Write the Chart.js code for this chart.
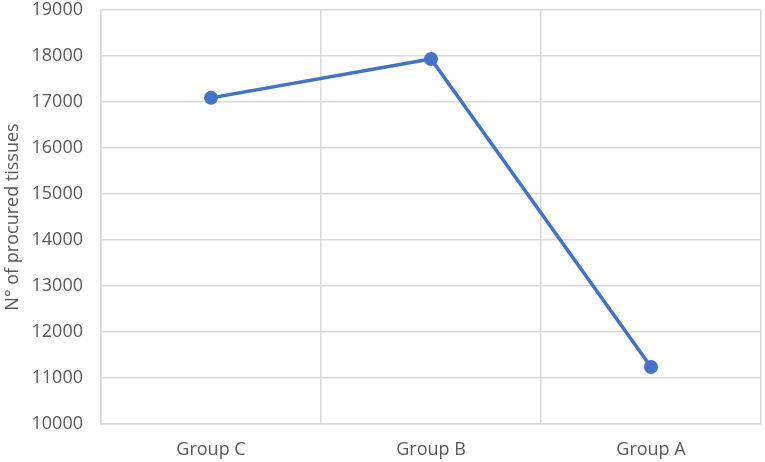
<!DOCTYPE html>
<html>
<head>
<meta charset="utf-8">
<script src="https://cdn.jsdelivr.net/npm/chart.js@4/dist/chart.umd.min.js"></script>
<style>
  html, body { margin: 0; padding: 0; background: #fff; }
  #wrap { width: 765px; height: 462px; }
</style>
</head>
<body>
<div id="wrap"><canvas id="tissueChart"></canvas></div>
<script>
const groups = ['Group C', 'Group B', 'Group A'];
const procuredTissues = [17090, 17935, 11240];
const yMin = 10000;
const yMax = 19000;
const yStep = 1000;

const ctx = document.getElementById('tissueChart').getContext('2d');
const lineColor = '#4472C4';
const gridColor = '#d9d9d9';
const textColor = '#595959';
const fontFamily = '"Open Sans", "Noto Sans", sans-serif';

new Chart(ctx, {
  type: 'line',
  data: {
    labels: groups,
    datasets: [{
      data: procuredTissues,
      borderColor: lineColor,
      backgroundColor: lineColor,
      borderWidth: 3.5,
      pointRadius: 7,
      pointHoverRadius: 7,
      pointBorderWidth: 0,
      tension: 0
    }]
  },
  options: {
    responsive: true,
    maintainAspectRatio: false,
    animation: false,
    layout: { autoPadding: false, padding: { left: 0, right: 4, top: 10, bottom: 0 } },
    plugins: { legend: { display: false }, tooltip: { enabled: false } },
    scales: {
      x: {
        offset: true,
        grid: { offset: true, color: gridColor, lineWidth: 1.5, drawTicks: false },
        border: { color: gridColor, width: 1.5 },
        ticks: { color: textColor, font: { family: fontFamily, size: 18 }, padding: 15 },
        afterFit: s => { s.height = 38; s.paddingLeft = 0; s.paddingRight = 0; }
      },
      y: {
        min: yMin,
        max: yMax,
        grid: { color: gridColor, lineWidth: 1.5, drawTicks: false },
        border: { color: gridColor, width: 1.5 },
        ticks: {
          stepSize: yStep,
          color: textColor,
          font: { family: fontFamily, size: 18 },
          padding: 18,
          callback: v => String(v)
        },
        title: {
          display: true,
          text: 'N° of procured tissues',
          color: textColor,
          font: { family: fontFamily, size: 18 },
          padding: { top: 2, bottom: 8 }
        },
        afterFit: s => { s.width = 101; s.paddingTop = 0; s.paddingBottom = 0; }
      }
    }
  }
});
</script>
</body>
</html>
